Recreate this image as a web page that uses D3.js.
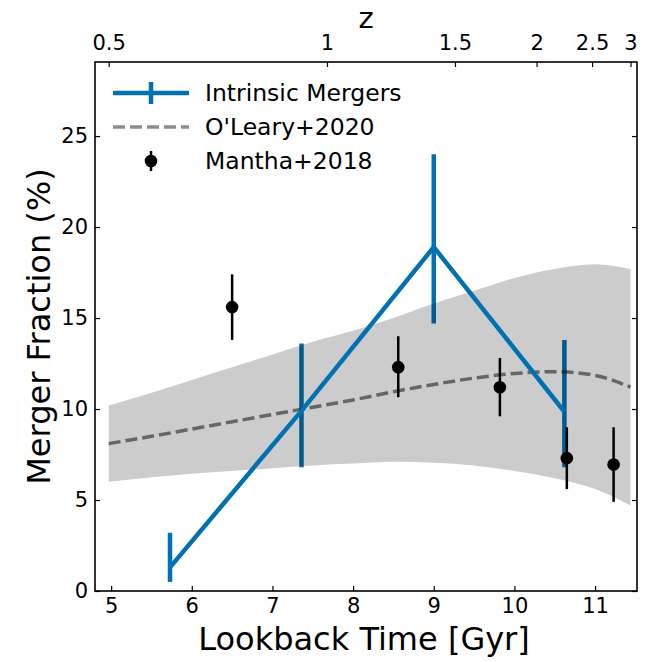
<!DOCTYPE html>
<html>
<head>
<meta charset="utf-8">
<script src="https://cdn.jsdelivr.net/npm/d3@7"></script>
<style>
  body { margin: 0; background: #fff; }
  svg text { font-family: "DejaVu Sans", sans-serif; fill: #000; }
</style>
</head>
<body>
<div id="chart"></div>
<script>
// Intrinsic mergers (lookback time in Gyr, merger fraction in %)
const intrinsicTime = [5.73, 7.36, 9.0, 10.62];
const intrinsicFrac = [1.3, 9.9, 18.9, 9.85];
const intrinsicLow = [0.5, 6.8, 14.7, 6.8];
const intrinsicHigh = [3.2, 13.6, 24.0, 13.8];

// Mantha+2018
const manthaTime = [6.5, 8.56, 9.82, 10.65, 11.23];
const manthaFrac = [15.6, 12.3, 11.2, 7.3, 6.95];
const manthaLow = [13.8, 10.65, 9.6, 5.6, 4.9];
const manthaHigh = [17.4, 14.0, 12.8, 9.0, 9.0];

// O'Leary+2020 model with band
const olearyTime = [4.97, 5.5, 6.0, 6.5, 7.0, 7.5, 8.0, 8.5, 9.0, 9.5, 10.0, 10.5, 11.0, 11.44];
const olearyFrac = [8.1, 8.5, 8.9, 9.3, 9.7, 10.1, 10.5, 10.95, 11.35, 11.7, 11.95, 12.05, 11.85, 11.2];
const olearyLow = [6.0, 6.25, 6.45, 6.6, 6.75, 6.9, 7.0, 7.1, 7.05, 6.9, 6.6, 6.2, 5.6, 4.7];
const olearyHigh = [10.2, 10.9, 11.6, 12.3, 13.0, 13.7, 14.3, 15.0, 15.8, 16.5, 17.2, 17.7, 17.95, 17.7];

// Ticks
const xTicks = [5, 6, 7, 8, 9, 10, 11];
const yTicks = [0, 5, 10, 15, 20, 25];
const zTickLabels = ['0.5', '1', '1.5', '2', '2.5', '3'];
const zTickTimes = [4.97, 7.676, 9.263, 10.275, 10.963, 11.44];

const width = 654, height = 662;
const margin = { top: 62, right: 17, bottom: 71, left: 95 };
const w = width - margin.left - margin.right;
const h = height - margin.top - margin.bottom;

const blue = '#0072B2';
const tickFont = 21;

const svg = d3.select('#chart')
  .append('svg')
  .attr('width', width)
  .attr('height', height);

const g = svg.append('g')
  .attr('transform', `translate(${margin.left},${margin.top})`);

const x = d3.scaleLinear().domain([4.8, 11.52]).range([0, w]);
const y = d3.scaleLinear().domain([0, 29.07]).range([h, 0]);

const plot = g.append('g');

// Intrinsic error bars (drawn under the band)
plot.selectAll('.ierr')
  .data(intrinsicTime)
  .enter()
  .append('line')
  .attr('x1', d => x(d))
  .attr('x2', d => x(d))
  .attr('y1', (d, i) => y(intrinsicLow[i]))
  .attr('y2', (d, i) => y(intrinsicHigh[i]))
  .attr('stroke', blue)
  .attr('stroke-width', 4.5);

// O'Leary band
const band = olearyTime.map((t, i) => ({ t, lo: olearyLow[i], hi: olearyHigh[i], m: olearyFrac[i] }));
plot.append('path')
  .datum(band)
  .attr('d', d3.area()
    .x(d => x(d.t))
    .y0(d => y(d.lo))
    .y1(d => y(d.hi))
    .curve(d3.curveMonotoneX))
  .attr('fill', '#000')
  .attr('fill-opacity', 0.2);

plot.append('path')
  .datum(band)
  .attr('d', d3.line()
    .x(d => x(d.t))
    .y(d => y(d.m))
    .curve(d3.curveMonotoneX))
  .attr('fill', 'none')
  .attr('stroke', '#000')
  .attr('stroke-opacity', 0.5)
  .attr('stroke-width', 3.5)
  .attr('stroke-dasharray', '12,5');

// Intrinsic line
plot.append('path')
  .datum(intrinsicTime.map((t, i) => [t, intrinsicFrac[i]]))
  .attr('d', d3.line().x(d => x(d[0])).y(d => y(d[1])))
  .attr('fill', 'none')
  .attr('stroke', blue)
  .attr('stroke-width', 4.5);

// Mantha points
plot.selectAll('.merr')
  .data(manthaTime)
  .enter()
  .append('line')
  .attr('x1', d => x(d))
  .attr('x2', d => x(d))
  .attr('y1', (d, i) => y(manthaLow[i]))
  .attr('y2', (d, i) => y(manthaHigh[i]))
  .attr('stroke', '#000')
  .attr('stroke-width', 2.5);

plot.selectAll('.mpt')
  .data(manthaTime)
  .enter()
  .append('circle')
  .attr('cx', d => x(d))
  .attr('cy', (d, i) => y(manthaFrac[i]))
  .attr('r', 6.3)
  .attr('fill', '#000');

// Axes (ticks inward)
const xAxis = g.append('g')
  .attr('transform', `translate(0,${h})`)
  .call(d3.axisBottom(x).tickValues(xTicks).tickSize(-5).tickPadding(7).tickFormat(d3.format('d')));
const yAxis = g.append('g')
  .call(d3.axisLeft(y).tickValues(yTicks).tickSize(-5).tickPadding(7));
const yAxisR = g.append('g')
  .attr('transform', `translate(${w},0)`)
  .call(d3.axisRight(y).tickValues(yTicks).tickSize(-5).tickFormat(''));
const zAxis = g.append('g')
  .call(d3.axisTop(x).tickValues(zTickTimes).tickSize(-5).tickPadding(12)
    .tickFormat((d, i) => zTickLabels[i]));

[xAxis, yAxis, yAxisR, zAxis].forEach(a => {
  a.select('.domain').remove();
  a.selectAll('.tick line').attr('stroke', '#000').attr('stroke-width', 1.2);
  a.selectAll('.tick text').attr('font-size', tickFont).attr('font-family', 'DejaVu Sans');
});

// Frame
g.append('rect')
  .attr('width', w)
  .attr('height', h)
  .attr('fill', 'none')
  .attr('stroke', '#000')
  .attr('stroke-width', 1.6);

// Axis labels
svg.append('text')
  .attr('x', margin.left + w / 2 - 2)
  .attr('y', 650)
  .attr('text-anchor', 'middle')
  .attr('font-size', 32)
  .text('Lookback Time [Gyr]');

svg.append('text')
  .attr('transform', `translate(50,${margin.top + h / 2}) rotate(-90)`)
  .attr('text-anchor', 'middle')
  .attr('font-size', 32)
  .text('Merger Fraction (%)');

svg.append('text')
  .attr('x', margin.left + w / 2)
  .attr('y', 28)
  .attr('text-anchor', 'middle')
  .attr('font-size', 29)
  .text('z');

// Legend
const legend = g.append('g').attr('transform', 'translate(18,0)');
const rowY = [31, 65, 99];

legend.append('line')
  .attr('x1', 0).attr('x2', 76)
  .attr('y1', rowY[0]).attr('y2', rowY[0])
  .attr('stroke', blue).attr('stroke-width', 4.5);
legend.append('line')
  .attr('x1', 38).attr('x2', 38)
  .attr('y1', rowY[0] - 11).attr('y2', rowY[0] + 11)
  .attr('stroke', blue).attr('stroke-width', 4.5);

legend.append('line')
  .attr('x1', 0).attr('x2', 76)
  .attr('y1', rowY[1]).attr('y2', rowY[1])
  .attr('stroke', '#000').attr('stroke-opacity', 0.45)
  .attr('stroke-width', 3.5).attr('stroke-dasharray', '12,5');

legend.append('line')
  .attr('x1', 38).attr('x2', 38)
  .attr('y1', rowY[2] - 10).attr('y2', rowY[2] + 10)
  .attr('stroke', '#000').attr('stroke-width', 2.5);
legend.append('circle')
  .attr('cx', 38).attr('cy', rowY[2])
  .attr('r', 6.3).attr('fill', '#000');

const legendLabels = ['Intrinsic Mergers', "O'Leary+2020", 'Mantha+2018'];
legend.selectAll('.ltext')
  .data(legendLabels)
  .enter()
  .append('text')
  .attr('x', 92)
  .attr('y', (d, i) => rowY[i])
  .attr('dy', '0.35em')
  .attr('font-size', 23.5)
  .text(d => d);
</script>
</body>
</html>
